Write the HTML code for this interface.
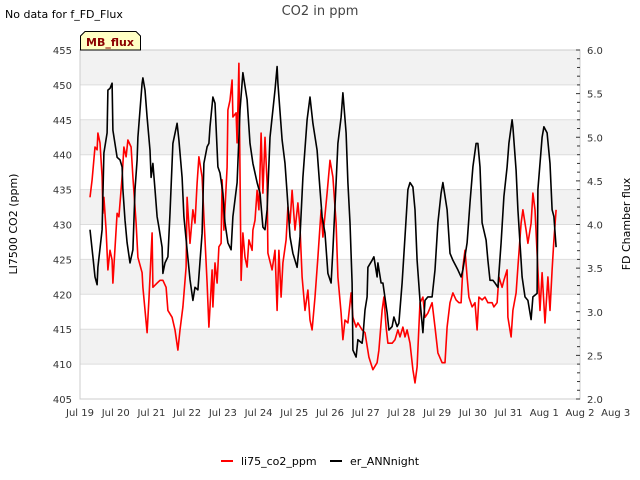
<!DOCTYPE html>
<html><head><meta charset="utf-8"><style>
body{margin:0;background:#fff;}
svg{display:block;font-family:"DejaVu Sans","Liberation Sans",sans-serif;}
</style></head><body>
<svg id="chart" width="640" height="480" viewBox="0 0 640 480">
<text x="5" y="18" font-size="11" fill="#000">No data for f_FD_Flux</text>
<text x="320" y="15" font-size="13" fill="#444" text-anchor="middle">CO2 in ppm</text>
<g id="bands"></g>
<g id="grid"></g>
<g id="series"></g>
<rect x="80" y="50" width="500" height="349" fill="none" stroke="#ccc"/>
<g id="yticks"></g>
<g id="y2ticks"></g>
<g id="xticks"></g>
<text transform="translate(17,224) rotate(-90)" font-size="11" text-anchor="middle" fill="#000">LI7500 CO2 (ppm)</text>
<text transform="translate(630,224) rotate(-90)" font-size="11" text-anchor="middle" fill="#000">FD Chamber flux</text>
<g>
<path d="M80.5,50 L80.5,36 L85,31.5 L136,31.5 L140.5,36 L140.5,50 Z" fill="#ffffc4" stroke="#000" stroke-width="1"/>
<text x="110" y="46" font-size="11" font-weight="bold" fill="#8b0000" text-anchor="middle">MB_flux</text>
</g>
<g>
<line x1="221" y1="461" x2="233" y2="461" stroke="#f00" stroke-width="2"/>
<text x="241" y="465" font-size="11">li75_co2_ppm</text>
<line x1="330" y1="461" x2="342" y2="461" stroke="#000" stroke-width="2"/>
<text x="350" y="465" font-size="11">er_ANNnight</text>
</g>
</svg>
<script>
const xTickLabels=["Jul 19","Jul 20","Jul 21","Jul 22","Jul 23","Jul 24","Jul 25","Jul 26","Jul 27","Jul 28","Jul 29","Jul 30","Jul 31","Aug 1","Aug 2","Aug 3"];
const yTicks=[405,410,415,420,425,430,435,440,445,450,455];
const y2Ticks=[2.0,2.5,3.0,3.5,4.0,4.5,5.0,5.5,6.0];
const redT=[0.28,0.34,0.42,0.48,0.50,0.56,0.62,0.64,0.67,0.73,0.78,0.84,0.90,0.92,1.04,1.09,1.18,1.23,1.29,1.34,1.43,1.48,1.57,1.62,1.74,1.76,1.88,1.93,2.02,2.04,2.16,2.24,2.32,2.41,2.46,2.58,2.66,2.74,2.80,2.88,2.97,3.00,3.08,3.16,3.22,3.28,3.33,3.42,3.47,3.56,3.61,3.70,3.72,3.78,3.84,3.89,3.95,3.98,4.03,4.12,4.14,4.20,4.26,4.28,4.37,4.40,4.45,4.51,4.56,4.62,4.68,4.73,4.82,4.84,4.90,4.96,5.01,5.07,5.12,5.18,5.24,5.26,5.38,5.46,5.52,5.57,5.63,5.68,5.77,5.82,5.88,5.94,6.02,6.10,6.16,6.22,6.30,6.38,6.44,6.50,6.58,6.66,6.75,6.80,6.92,7.00,7.08,7.17,7.22,7.31,7.36,7.42,7.50,7.59,7.64,7.73,7.78,7.90,7.98,8.09,8.20,8.32,8.37,8.46,8.51,8.57,8.62,8.74,8.82,8.90,8.96,9.04,9.10,9.16,9.24,9.32,9.38,9.44,9.52,9.60,9.66,9.74,9.86,9.94,10.02,10.14,10.22,10.28,10.36,10.44,10.53,10.61,10.67,10.72,10.78,10.84,10.89,10.98,11.06,11.12,11.17,11.26,11.34,11.42,11.54,11.59,11.68,11.73,11.82,11.87,11.96,11.98,12.07,12.12,12.21,12.26,12.35,12.40,12.49,12.54,12.63,12.68,12.74,12.82,12.88,12.94,13.02,13.10,13.16,13.22,13.27,13.33];
const redV=[433.9,436.4,441.1,440.7,443.1,441.7,436.8,431.6,433.9,429.2,423.5,426.3,424.9,421.6,431.6,431.1,436.8,441.1,439.7,442.1,441.1,436.8,430.2,425.3,423.1,421.0,414.5,419.2,428.8,421.0,421.6,422.0,422.0,421.0,417.7,416.7,414.9,412.0,414.9,418.2,423.9,433.9,427.3,432.1,430.2,435.9,439.7,436.8,431.1,421.6,415.3,423.5,418.2,424.5,421.6,426.8,427.3,436.4,429.2,438.2,446.4,447.8,450.7,445.4,446.0,441.7,453.1,422.0,428.8,425.3,423.9,427.8,426.3,429.2,430.6,434.9,432.1,443.1,434.5,442.5,435.9,425.9,423.5,426.3,417.7,426.3,419.6,424.5,427.8,432.5,430.2,434.9,429.2,433.1,429.6,422.5,417.7,420.6,416.3,414.9,419.6,425.3,432.1,428.2,434.5,439.2,436.8,430.2,422.5,417.3,413.5,416.3,415.9,420.2,416.7,415.3,415.9,414.9,414.5,411.0,409.2,410.2,412.0,417.7,419.6,415.3,413.0,413.0,413.5,414.9,413.9,415.3,413.9,414.9,413.0,409.2,407.3,409.6,418.8,419.6,416.7,417.3,418.8,415.3,411.6,410.2,410.2,415.3,418.8,420.2,419.2,418.8,418.8,423.9,426.3,422.5,419.6,418.2,418.8,414.9,419.6,419.2,419.6,418.8,418.8,418.2,418.8,422.5,421.0,422.0,423.5,416.7,413.9,417.7,420.2,423.9,430.2,432.1,429.2,427.3,430.2,434.5,432.1,423.5,417.7,423.1,415.9,422.5,417.7,423.5,427.8,432.1];
const blackT=[0.28,0.36,0.42,0.48,0.50,0.62,0.67,0.76,0.78,0.84,0.90,0.92,1.04,1.12,1.18,1.20,1.26,1.32,1.40,1.48,1.54,1.60,1.62,1.74,1.76,1.82,1.88,1.96,1.99,2.04,2.10,2.16,2.21,2.30,2.32,2.38,2.46,2.52,2.60,2.72,2.77,2.86,2.91,3.00,3.08,3.16,3.22,3.30,3.42,3.47,3.56,3.61,3.64,3.72,3.78,3.86,3.92,4.00,4.06,4.14,4.23,4.28,4.40,4.48,4.56,4.68,4.76,4.84,4.96,5.04,5.12,5.18,5.24,5.32,5.46,5.52,5.54,5.66,5.74,5.80,5.88,5.96,6.08,6.16,6.24,6.36,6.44,6.52,6.64,6.72,6.78,6.86,6.94,7.03,7.08,7.17,7.22,7.31,7.36,7.45,7.50,7.56,7.62,7.64,7.73,7.78,7.90,7.92,7.98,8.04,8.06,8.18,8.23,8.32,8.34,8.43,8.48,8.60,8.65,8.74,8.79,8.88,8.93,9.02,9.10,9.18,9.24,9.32,9.38,9.44,9.52,9.60,9.66,9.74,9.86,9.94,10.02,10.11,10.16,10.28,10.36,10.44,10.58,10.67,10.72,10.84,10.92,11.00,11.09,11.14,11.20,11.26,11.37,11.42,11.48,11.56,11.62,11.70,11.79,11.87,11.96,12.01,12.10,12.12,12.21,12.26,12.38,12.46,12.54,12.63,12.68,12.80,12.82,12.94,12.99,13.08,13.16,13.22,13.27,13.33];
const blackV=[3.94,3.63,3.40,3.31,3.51,3.94,4.82,5.05,5.54,5.56,5.62,5.08,4.77,4.74,4.66,4.40,4.05,3.79,3.56,3.71,4.40,4.74,5.00,5.62,5.68,5.54,5.23,4.85,4.54,4.70,4.40,4.09,3.97,3.74,3.44,3.56,3.63,4.13,4.93,5.16,4.97,4.54,4.09,3.71,3.37,3.13,3.28,3.25,3.90,4.70,4.89,4.93,5.12,5.46,5.39,4.66,4.59,4.36,4.02,3.79,3.71,4.09,4.48,5.31,5.74,5.43,4.93,4.70,4.48,4.36,3.97,3.94,4.17,5.00,5.54,5.81,5.62,4.97,4.70,4.36,3.86,3.67,3.51,3.86,4.54,5.20,5.46,5.16,4.85,4.40,4.09,3.90,3.44,3.33,3.71,4.48,4.93,5.23,5.51,5.05,4.48,4.02,3.33,2.56,2.48,2.68,2.64,2.71,3.02,3.17,3.51,3.59,3.63,3.40,3.56,3.33,3.33,2.99,2.79,2.83,2.94,2.83,2.87,3.33,3.86,4.40,4.48,4.43,4.17,3.59,3.13,2.76,3.13,3.17,3.17,3.48,4.02,4.36,4.48,4.17,3.67,3.59,3.48,3.40,3.48,3.79,4.25,4.66,4.93,4.93,4.66,4.02,3.82,3.59,3.36,3.36,3.33,3.28,3.79,4.32,4.66,4.93,5.20,5.12,4.62,4.17,3.40,3.17,3.13,2.91,3.17,3.21,4.40,5.00,5.12,5.05,4.70,4.17,4.09,3.74];

const NS="http://www.w3.org/2000/svg";
const X0=80,X1=580,Y0=50,Y1=399;
function xScale(d){return X0+(d/14)*(X1-X0);}
function yScale(v){return Y1-(v-405)/50*(Y1-Y0);}
function y2Scale(v){return Y1-(v-2)/4*(Y1-Y0);}
function mk(tag,attrs,parent){const e=document.createElementNS(NS,tag);for(const k in attrs)e.setAttribute(k,attrs[k]);parent.appendChild(e);return e;}

const bands=document.getElementById('bands');
for(let i=0;i<yTicks.length-1;i++){
  const shaded=(i%2===1);
  const r=mk('rect',{x:X0,y:yScale(yTicks[i+1]),width:X1-X0,height:yScale(yTicks[i])-yScale(yTicks[i+1]),fill:shaded?'#f2f2f2':'#fff'},bands);
  
  
}
const grid=document.getElementById('grid');
const yt=document.getElementById('yticks');
yTicks.forEach(v=>{
  const y=yScale(v);
  const l=mk('line',{x1:X0,x2:X1,y1:y,y2:y,stroke:'#ddd','stroke-width':1},grid);
  
  
  const t=mk('text',{x:72,y:y+4,'font-size':10,'text-anchor':'end',fill:'#333'},yt);
  t.textContent=String(v);
  
  
});
const y2=document.getElementById('y2ticks');
for(let k=0;k<=40;k++){
  const v=2+k*0.1;const y=y2Scale(v);const major=(k%5===0);
  const l=mk('line',{x1:X1-(major?4:3),x2:X1,y1:y,y2:y,stroke:'#333','stroke-width':1},y2);
  
  
}
y2Ticks.forEach(v=>{
  const t=mk('text',{x:587,y:y2Scale(v)+4,'font-size':10,fill:'#333'},y2);
  t.textContent=v.toFixed(1);
  
  
});
const xt=document.getElementById('xticks');
xTickLabels.forEach((s,i)=>{
  const x=xScale(i);
  const t=mk('text',{x:x,y:416,'font-size':10,'text-anchor':'middle',fill:'#333'},xt);
  t.textContent=s;
  
  
});
const ser=document.getElementById('series');
const pr=mk('polyline',{points:redT.map((d,i)=>xScale(d).toFixed(1)+','+yScale(redV[i]).toFixed(1)).join(' '),fill:'none',stroke:'#f00','stroke-width':1.6,'stroke-linejoin':'round'},ser);


const pb=mk('polyline',{points:blackT.map((d,i)=>xScale(d).toFixed(1)+','+y2Scale(blackV[i]).toFixed(1)).join(' '),fill:'none',stroke:'#000','stroke-width':1.6,'stroke-linejoin':'round'},ser);


</script>
</body></html>
